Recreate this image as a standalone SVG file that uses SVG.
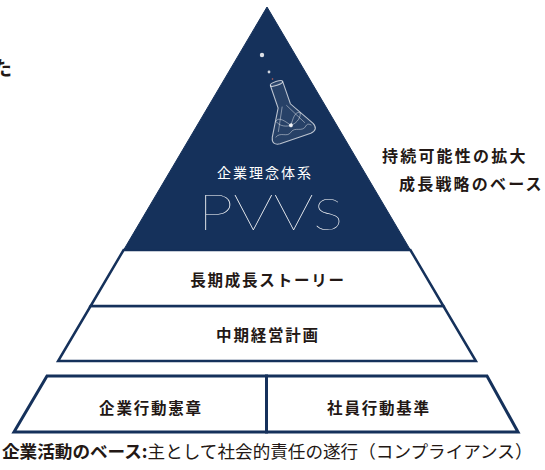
<svg xmlns="http://www.w3.org/2000/svg" width="545" height="470" viewBox="0 0 545 470">
  <style>
    .jp { font-family: "Noto Sans CJK JP", "Noto Sans", sans-serif; fill: #231815; }
    .bold { font-weight: 700; }
    .band { fill: #ffffff; stroke: #15315b; stroke-width: 2.5; stroke-linejoin: miter; }
    .base { fill: #ffffff; stroke: #15315b; stroke-width: 3; stroke-linejoin: miter; }
    .tier { font-size: 15.5px; letter-spacing: 1.8px; text-anchor: middle; }
    .side { font-size: 16px; letter-spacing: 2.2px; }
    .glass { fill: #ffffff; fill-opacity: 0.08; stroke: #ffffff; stroke-opacity: 0.7; stroke-width: 1; }
    .thin { fill: none; stroke: #ffffff; stroke-opacity: 0.45; stroke-width: 0.8; }
  </style>

  <!-- cut-off character at the left margin -->
  <text class="jp bold" x="-8" y="76" font-size="20">た</text>

  <!-- lower tier: medium-term plan -->
  <g id="mid-term-plan">
    <polygon class="band" points="90.6,306 443.4,306 475.9,361 58.1,361"/>
    <text class="jp bold tier" x="268" y="341">中期経営計画</text>
  </g>

  <!-- middle tier: long-term growth story -->
  <g id="long-term-story">
    <polygon class="band" points="123.6,250 410.4,250 443.4,306 90.6,306"/>
    <text class="jp bold tier" x="268" y="286">長期成長ストーリー</text>
  </g>

  <!-- apex: corporate philosophy PVVS -->
  <g id="pvvs">
    <polygon points="267,7 410.4,250 123.6,250" fill="#15315b" stroke="#15315b" stroke-width="1"/>
    <!-- bubbles rising from the flask -->
    <circle cx="262" cy="55" r="2.2" fill="#ffffff" fill-opacity="0.85"/>
    <circle cx="269" cy="72" r="1.4" fill="#ffffff" fill-opacity="0.8"/>
    <circle cx="272.5" cy="79" r="0.8" fill="#c8645a"/>
    <!-- tilted flask -->
    <g transform="translate(286,111) rotate(-19) scale(1.08)">
      <path class="glass" d="M -6,-27 L -6,-5 L -20,19 Q -23,26 -15,27 L 15,27 Q 23,26 20,19 L 6,-5 L 6,-27"/>
      <ellipse cx="0" cy="-27" rx="6" ry="1.8" class="glass"/>
      <path class="thin" d="M -17,20 C -11,16 -7,24 -2,20 C 3,16 8,24 13,19 C 15,17 17,19 18,20"/>
      <path class="thin" d="M -12,6 C -8,2 -3,10 0,14 C 3,10 8,2 12,6 C 10,12 4,14 0,14 C -4,14 -10,12 -12,6 Z"/>
      <path class="thin" d="M -2,-5 L -13,16 M 2,-5 L 13,16"/>
      <circle cx="0" cy="14" r="1.8" fill="#ffffff" fill-opacity="0.9"/>
    </g>
    <text x="265" y="178" font-family="Noto Sans CJK JP, Noto Sans, sans-serif" font-size="14" letter-spacing="2" fill="#ffffff" text-anchor="middle">企業理念体系</text>
    <text x="198" y="230" font-family="Lato, Inter, sans-serif" font-weight="100" font-size="50" fill="#ffffff" textLength="145" lengthAdjust="spacingAndGlyphs">PVV<tspan font-size="44">S</tspan></text>
  </g>

  <!-- side note on the apex -->
  <g id="side-note">
    <text class="jp bold side" x="382" y="162">持続可能性の拡大</text>
    <text class="jp bold side" x="399" y="190">成長戦略のベース</text>
  </g>

  <!-- foundation: code of conduct -->
  <g id="corporate-conduct">
    <polygon class="base" points="47,376 266.5,376 266.5,432 14,432"/>
    <text class="jp bold tier" x="151" y="414" letter-spacing="2.5">企業行動憲章</text>
  </g>
  <g id="employee-conduct">
    <polygon class="base" points="266.5,376 487,376 518,432 266.5,432"/>
    <text class="jp bold tier" x="379" y="414" letter-spacing="2.5">社員行動基準</text>
  </g>

  <!-- caption under the pyramid -->
  <g id="caption">
    <text class="jp" x="2" y="458" font-size="17.6"><tspan font-weight="700">企業活動のベース:</tspan>主として社会的責任の遂行（コンプライアンス）</text>
  </g>
</svg>
